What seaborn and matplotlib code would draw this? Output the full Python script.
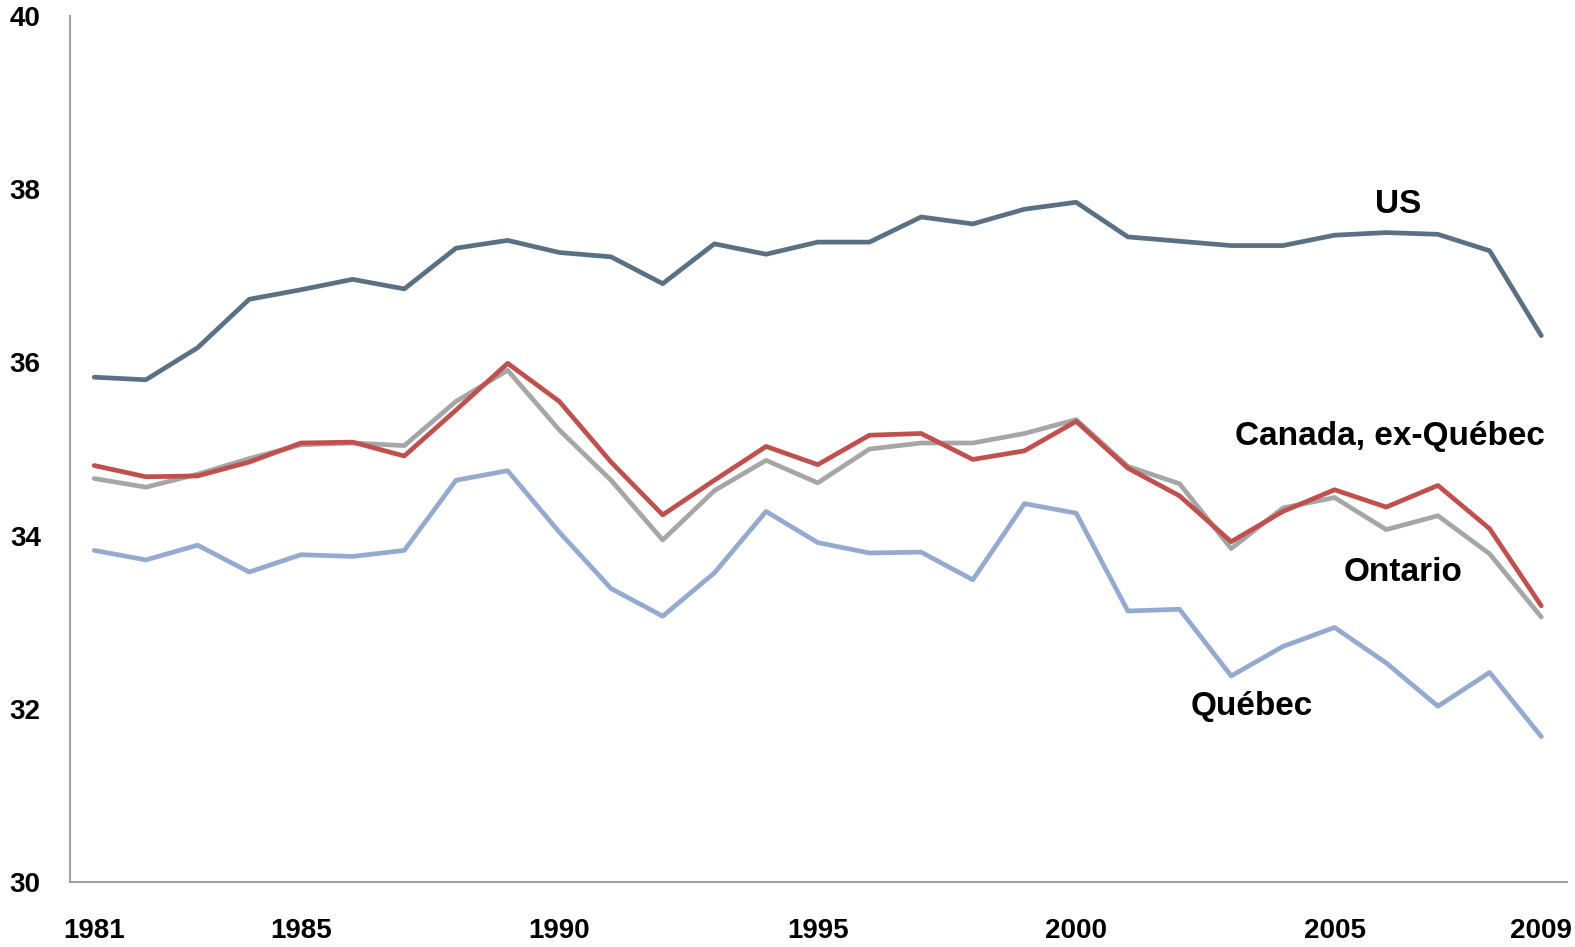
import matplotlib
matplotlib.use("Agg")
import matplotlib.pyplot as plt
import pandas as pd
import seaborn as sns

years = list(range(1981, 2010))

us = [35.83, 35.80, 36.17, 36.73, 36.84, 36.96, 36.85, 37.32, 37.41, 37.27,
      37.22, 36.91, 37.37, 37.25, 37.39, 37.39, 37.68, 37.60, 37.77, 37.85,
      37.45, 37.40, 37.35, 37.35, 37.47, 37.50, 37.48, 37.29, 36.31]
canada_ex_qc = [34.81, 34.68, 34.69, 34.85, 35.07, 35.08, 34.92, 35.45, 35.99, 35.55,
                34.85, 34.24, 34.64, 35.03, 34.82, 35.16, 35.18, 34.88, 34.98, 35.32,
                34.78, 34.46, 33.93, 34.28, 34.53, 34.33, 34.58, 34.08, 33.19]
ontario = [34.66, 34.56, 34.71, 34.89, 35.05, 35.07, 35.04, 35.55, 35.91, 35.22,
           34.64, 33.95, 34.52, 34.87, 34.61, 35.00, 35.07, 35.07, 35.18, 35.34,
           34.80, 34.60, 33.85, 34.32, 34.44, 34.07, 34.23, 33.79, 33.06]
quebec = [33.83, 33.72, 33.89, 33.58, 33.78, 33.76, 33.83, 34.64, 34.75, 34.04,
          33.39, 33.07, 33.57, 34.28, 33.92, 33.80, 33.81, 33.49, 34.37, 34.26,
          33.13, 33.15, 32.38, 32.72, 32.94, 32.53, 32.03, 32.42, 31.68]

series_names = ["US", "Ontario", "Canada, ex-Québec", "Québec"]
xtick_years = [1981, 1985, 1990, 1995, 2000, 2005, 2009]
ytick_values = [30, 32, 34, 36, 38, 40]

df = pd.DataFrame({"year": years, "US": us, "Canada, ex-Québec": canada_ex_qc,
                   "Ontario": ontario, "Québec": quebec})
long_df = df.melt(id_vars="year", var_name="region", value_name="value")

sns.set_style("white")
plt.rcParams['font.family'] = ['Liberation Sans', 'DejaVu Sans']
plt.rcParams['text.color'] = 'black'
plt.rcParams['xtick.color'] = 'black'
plt.rcParams['ytick.color'] = 'black'

colors = {"US": "#5b7183", "Ontario": "#a6a6a6",
          "Canada, ex-Québec": "#c0504d", "Québec": "#94aad0"}

fig = plt.figure(figsize=(15.75, 9.47), dpi=100)
ax = fig.add_axes([0.0444, 0.0686, 0.9506, 0.9144])

sns.lineplot(data=long_df, x="year", y="value", hue="region",
             hue_order=series_names, palette=colors, linewidth=3.4,
             legend=False, ax=ax)

ax.set_xlim(1980.53, 2009.5)
ax.set_ylim(30, 40)
ax.set_xticks(xtick_years)
ax.set_xticklabels([str(y) for y in xtick_years])
ax.set_yticks(ytick_values)
ax.set_xlabel("")
ax.set_ylabel("")
ax.tick_params(axis='both', length=0, labelsize=20, colors='black')
ax.tick_params(axis='y', pad=21)
ax.tick_params(axis='x', pad=26)
for lbl in ax.get_xticklabels() + ax.get_yticklabels():
    lbl.set_fontweight('bold')

for side in ["top", "right"]:
    ax.spines[side].set_visible(False)
for side in ["left", "bottom"]:
    ax.spines[side].set_color("#a0a0a0")
    ax.spines[side].set_linewidth(1.5)

# labels next to the lines
label_kw = dict(fontsize=24, fontweight='bold', ha='center', va='center',
                color='black', transform=ax.transAxes)
def px_to_axes(x, y):
    return ((x - 70) / (1567 - 70), (882 - y) / (882 - 16))

ax.text(*px_to_axes(1398, 204), "US", **label_kw)
ax.text(*px_to_axes(1390, 436), "Canada, ex-Québec", **label_kw)
ax.text(*px_to_axes(1403, 572), "Ontario", **label_kw)
ax.text(*px_to_axes(1252, 706), "Québec", **label_kw)

fig.savefig("out.png", dpi=100)
